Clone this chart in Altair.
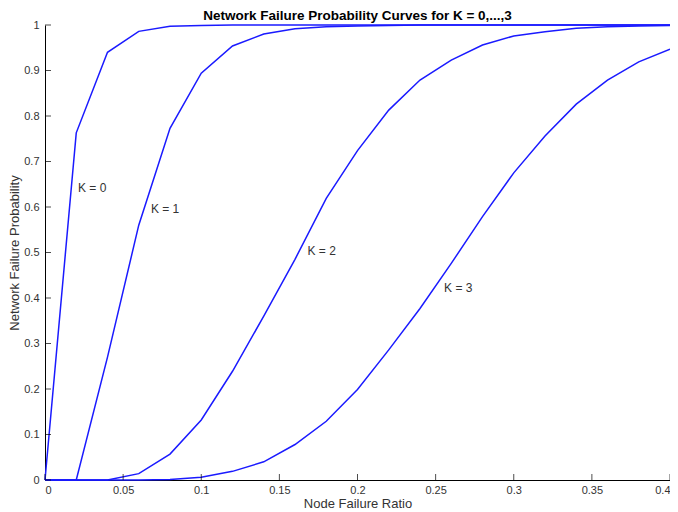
import altair as alt
import pandas as pd

# Node failure ratio sample points
ratio = [0.00, 0.02, 0.04, 0.06, 0.08, 0.10, 0.12, 0.14, 0.16, 0.18, 0.20,
         0.22, 0.24, 0.26, 0.28, 0.30, 0.32, 0.34, 0.36, 0.38, 0.40]

# Network failure probability for each K
k0 = [0.000, 0.763, 0.940, 0.986, 0.997, 0.999, 1.000, 1.000, 1.000, 1.000, 1.000,
      1.000, 1.000, 1.000, 1.000, 1.000, 1.000, 1.000, 1.000, 1.000, 1.000]
k1 = [0.000, 0.000, 0.270, 0.560, 0.773, 0.894, 0.954, 0.980, 0.992, 0.996, 0.998,
      0.999, 1.000, 1.000, 1.000, 1.000, 1.000, 1.000, 1.000, 1.000, 1.000]
k2 = [0.000, 0.000, 0.000, 0.014, 0.057, 0.132, 0.239, 0.360, 0.485, 0.619, 0.724,
      0.813, 0.879, 0.923, 0.956, 0.976, 0.985, 0.993, 0.996, 0.998, 0.999]
k3 = [0.000, 0.000, 0.000, 0.000, 0.001, 0.006, 0.019, 0.040, 0.078, 0.129, 0.199,
      0.286, 0.377, 0.476, 0.579, 0.675, 0.756, 0.826, 0.879, 0.919, 0.947]

series_names = ["K = 0", "K = 1", "K = 2", "K = 3"]
series_vals = [k0, k1, k2, k3]

# In-plot curve labels
label_text = ["K = 0", "K = 1", "K = 2", "K = 3"]
label_x = [0.0211, 0.0678, 0.1680, 0.2554]
label_y = [0.642, 0.596, 0.503, 0.422]

# Tick values
x_ticks = [0, 0.05, 0.1, 0.15, 0.2, 0.25, 0.3, 0.35, 0.4]
y_ticks = [0, 0.1, 0.2, 0.3, 0.4, 0.5, 0.6, 0.7, 0.8, 0.9, 1.0]

rows = []
for name, vals in zip(series_names, series_vals):
    for r, v in zip(ratio, vals):
        rows.append({"x": r, "y": v, "K": name})
df = pd.DataFrame(rows)
labels_df = pd.DataFrame({"t": label_text, "x": label_x, "y": label_y})
xt_df = pd.DataFrame({"x": x_ticks})
yt_df = pd.DataFrame({"y": y_ticks})

W, H = 625, 455
FONT = "Liberation Sans"
TXT = "#333333"
xs = alt.Scale(domain=[0, 0.4], nice=False, zero=False)
ys = alt.Scale(domain=[0, 1], nice=False)
x_axis = alt.Axis(values=x_ticks, format="~g", title="Node Failure Ratio",
                  ticks=False, labelPadding=4, titlePadding=2)
y_axis = alt.Axis(values=y_ticks, format="~g", title="Network Failure Probability",
                  ticks=False, labelPadding=6, titlePadding=2)

lines = alt.Chart(df).mark_line(color="#1a1aff", strokeWidth=1.5).encode(
    x=alt.X("x:Q", scale=xs, axis=x_axis),
    y=alt.Y("y:Q", scale=ys, axis=y_axis),
    detail="K:N",
)

xticks = alt.Chart(xt_df).mark_tick(color="black", thickness=1, size=6).encode(
    x=alt.X("x:Q", scale=xs, axis=x_axis),
    y=alt.value(H - 3),
)
yticks = alt.Chart(yt_df).mark_tick(color="black", thickness=1, size=6).encode(
    y=alt.Y("y:Q", scale=ys, axis=y_axis),
    x=alt.value(3),
)

texts = alt.Chart(labels_df).mark_text(align="left", baseline="middle", fontSize=12,
                                        font=FONT, color=TXT).encode(
    x=alt.X("x:Q", scale=xs, axis=x_axis),
    y=alt.Y("y:Q", scale=ys, axis=y_axis),
    text="t:N",
)

chart = alt.layer(lines, xticks, yticks, texts).properties(
    width=W, height=H,
    autosize="none",
    padding={"left": 37, "top": 17, "right": 0, "bottom": 30},
    title=alt.Title("Network Failure Probability Curves for K = 0,...,3",
                    fontSize=13.5, fontWeight="bold", font=FONT, color="black",
                    anchor="middle", offset=0, dy=3),
).configure_view(stroke=None).configure_axis(
    grid=False, domainColor="black", domainWidth=1,
    labelColor=TXT, labelFont=FONT, labelFontSize=11,
    titleColor=TXT, titleFont=FONT, titleFontSize=13, titleFontWeight="normal",
)

chart.save("out.html", embed_options={"renderer": "svg", "actions": False})
